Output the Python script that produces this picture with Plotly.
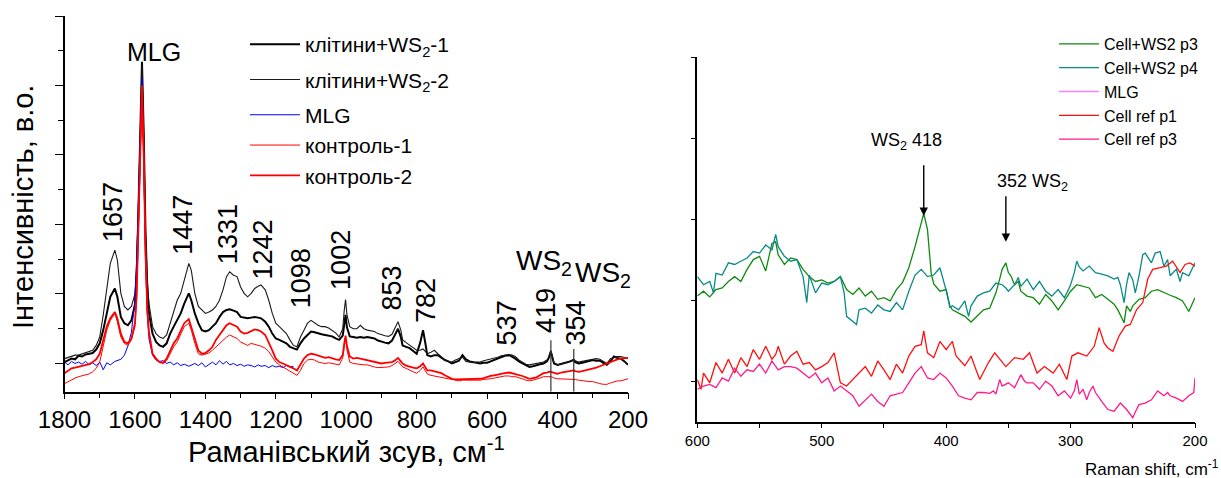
import plotly.graph_objects as go

W, H = 1221, 478
FONT = "Liberation Sans, Arial, sans-serif"

# ---------------- Left panel data (Raman shift, cm-1) ----------------
X_LEFT = [1800, 1790, 1780, 1770, 1760, 1750, 1740, 1730, 1720, 1710, 1700, 1690, 1680, 1670, 1657, 1650, 1640, 1630, 1620, 1610,
          1600, 1595, 1590, 1585, 1580, 1575, 1570, 1565, 1560,
          1550, 1540, 1530, 1520, 1510, 1500, 1490, 1480, 1470, 1460, 1447, 1440, 1430, 1420, 1410, 1400, 1390, 1380, 1370, 1360,
          1350, 1340, 1331, 1320, 1310, 1300, 1290, 1280, 1270, 1260, 1250, 1242, 1230, 1220, 1210, 1200, 1190, 1180, 1170, 1160,
          1150, 1140, 1130, 1120, 1110, 1100, 1090, 1080, 1070, 1060, 1050, 1040, 1030, 1020, 1010,
          1006, 1002, 998, 990,
          980, 970, 960, 950, 940, 930, 920, 910, 900, 890, 880, 870, 860, 853, 845, 840, 830, 820, 810, 800,
          790, 782, 775, 770, 760, 750, 740, 730, 720, 710, 700, 690, 680, 670, 660, 650, 640, 630, 620, 610,
          600, 590, 580, 570, 560, 550, 537, 530, 520, 510, 500, 490, 480, 470, 460, 450, 440, 430, 425, 419,
          413, 410, 400, 390, 380, 370, 360, 354, 350, 340, 330, 320, 310, 300, 290, 280, 270, 260, 250, 240,
          230, 220, 210, 200]

CELLS_WS2_1 = [0.02, 0.05, 0.07, 0.06, 0.11, 0.10, 0.13, 0.14, 0.15, 0.20, 0.29, 0.48, 0.72, 0.96, 1.08, 0.96, 0.67, 0.58, 0.55, 0.62,
               0.85, 1.3, 2.2, 3.4, 4.34, 3.3, 1.9, 1.1, 0.72,
               0.43, 0.31, 0.26, 0.24, 0.29, 0.43, 0.53, 0.62, 0.72, 0.86, 1.01, 0.91, 0.72, 0.58, 0.48, 0.46, 0.48, 0.53, 0.58, 0.67,
               0.74, 0.77, 0.78, 0.76, 0.74, 0.67, 0.66, 0.65, 0.66, 0.67, 0.66, 0.65, 0.60, 0.53, 0.43, 0.36, 0.34, 0.31, 0.29, 0.24,
               0.22, 0.20, 0.29, 0.36, 0.41, 0.46, 0.45, 0.43, 0.42, 0.41, 0.40, 0.39, 0.36, 0.34, 0.40,
               0.55, 0.70, 0.52, 0.39,
               0.38, 0.37, 0.38, 0.37, 0.38, 0.37, 0.36, 0.33, 0.31, 0.30, 0.29, 0.33, 0.43, 0.50, 0.38, 0.26, 0.24, 0.22, 0.18, 0.14,
               0.30, 0.48, 0.28, 0.12, 0.10, 0.12, 0.12, 0.08, 0.05, 0.03, 0.00, 0.02, 0.04, 0.12, 0.06, 0.03, 0.02, 0.01, 0.00, 0.01,
               0.01, 0.03, 0.05, 0.07, 0.09, 0.11, 0.12, 0.10, 0.07, 0.03, 0.00, -0.03, -0.05, -0.04, -0.02, -0.01, 0.00, 0.03, 0.08, 0.17,
               0.05, 0.00, -0.02, -0.01, 0.00, 0.02, 0.04, 0.05, 0.02, 0.00, 0.01, 0.02, 0.03, 0.05, 0.04, 0.04, 0.01, -0.02, 0.03, 0.10,
               0.08, 0.07, 0.03, -0.02]

CELLS_WS2_2 = [0.07, 0.09, 0.10, 0.12, 0.12, 0.14, 0.15, 0.17, 0.19, 0.26, 0.38, 0.70, 1.10, 1.44, 1.63, 1.49, 1.01, 0.82, 0.77, 0.82,
               1.0, 1.4, 2.3, 3.5, 4.3, 3.3, 1.9, 1.2, 0.86,
               0.53, 0.43, 0.38, 0.36, 0.41, 0.58, 0.72, 0.91, 1.01, 1.20, 1.44, 1.34, 1.01, 0.82, 0.77, 0.72, 0.74, 0.77, 0.82, 0.91,
               1.06, 1.25, 1.32, 1.27, 1.25, 1.10, 1.01, 0.96, 1.01, 1.08, 1.11, 1.13, 1.06, 0.91, 0.72, 0.58, 0.53, 0.48, 0.43, 0.34,
               0.26, 0.24, 0.38, 0.48, 0.58, 0.62, 0.58, 0.55, 0.53, 0.53, 0.51, 0.48, 0.44, 0.38, 0.50,
               0.75, 0.92, 0.70, 0.53,
               0.50, 0.50, 0.55, 0.50, 0.48, 0.47, 0.46, 0.43, 0.41, 0.40, 0.39, 0.42, 0.53, 0.60, 0.48, 0.34, 0.30, 0.26, 0.22, 0.19,
               0.19, 0.21, 0.17, 0.14, 0.16, 0.19, 0.14, 0.09, 0.05, 0.03, 0.02, 0.05, 0.07, 0.09, 0.03, 0.02, 0.01, 0.02, 0.02, 0.04,
               0.05, 0.06, 0.07, 0.09, 0.11, 0.12, 0.13, 0.12, 0.10, 0.05, 0.02, -0.01, -0.02, -0.01, 0.00, 0.01, 0.02, 0.05, 0.09, 0.19,
               0.06, 0.01, -0.02, -0.01, 0.00, 0.02, 0.04, 0.06, 0.04, 0.02, 0.03, 0.04, 0.05, 0.07, 0.07, 0.06, 0.03, 0.00, 0.07, 0.09,
               0.10, 0.10, 0.08, 0.07]

X_MLG = X_LEFT[:70]
MLG = [0.02, -0.02, 0.03, 0.00, 0.02, -0.01, 0.03, -0.02, 0.01, -0.03, 0.02, -0.09, 0.01, -0.02, 0.03, 0.04, 0.06, 0.12, 0.25, 0.45,
       0.9, 1.5, 2.3, 3.3, 4.1, 3.0, 1.5, 0.7, 0.35,
       0.12, 0.05, 0.03, 0.04, 0.00, 0.02, -0.02, 0.01, -0.03, -0.01, -0.04, -0.02, 0.00, -0.03, 0.01, -0.05, -0.01, 0.02, -0.02, 0.04,
       -0.01, 0.03, -0.02, 0.00, -0.03, -0.01, -0.04, -0.02, -0.03, -0.05, -0.02, -0.04, -0.03, -0.06, -0.03, -0.05, -0.04, -0.06, -0.03, -0.05,
       -0.04]

CONTROL_1 = [-0.29, -0.26, -0.23, -0.21, -0.19, -0.18, -0.17, -0.15, -0.12, -0.07, 0.02, 0.24, 0.48, 0.62, 0.72, 0.60, 0.38, 0.29, 0.26, 0.34,
             0.53, 0.95, 1.85, 3.0, 3.95, 2.9, 1.5, 0.75, 0.42,
             0.12, 0.05, 0.02, 0.00, 0.04, 0.14, 0.24, 0.31, 0.41, 0.53, 0.58, 0.48, 0.29, 0.14, 0.12, 0.13, 0.15, 0.19, 0.24, 0.29,
             0.34, 0.38, 0.41, 0.38, 0.36, 0.31, 0.29, 0.26, 0.29, 0.27, 0.26, 0.25, 0.22, 0.17, 0.10, 0.02, -0.02, -0.05, -0.09, -0.12,
             -0.14, -0.17, -0.10, 0.00, 0.05, 0.06, 0.05, 0.02, 0.01, 0.00, 0.01, 0.00, -0.01, -0.02, 0.08,
             0.25, 0.38, 0.20, 0.02,
             0.00, -0.01, -0.01, -0.02, -0.02, -0.04, -0.05, -0.06, -0.06, -0.05, -0.05, -0.03, 0.00, 0.03, -0.02, -0.05, -0.07, -0.10, -0.12, -0.14,
             -0.10, -0.05, -0.11, -0.15, -0.17, -0.18, -0.19, -0.20, -0.22, -0.23, -0.24, -0.25, -0.25, -0.24, -0.24, -0.25, -0.25, -0.24, -0.24, -0.23,
             -0.23, -0.22, -0.21, -0.20, -0.19, -0.18, -0.18, -0.19, -0.19, -0.20, -0.22, -0.24, -0.25, -0.24, -0.23, -0.21, -0.19, -0.19, -0.18, -0.19,
             -0.20, -0.21, -0.22, -0.22, -0.22, -0.22, -0.22, -0.22, -0.23, -0.24, -0.25, -0.25, -0.26, -0.26, -0.28, -0.29, -0.30, -0.30, -0.28, -0.26,
             -0.25, -0.25, -0.23, -0.22]

CONTROL_2 = [-0.14, -0.10, -0.07, -0.06, -0.05, -0.04, -0.02, -0.01, 0.02, 0.06, 0.14, 0.34, 0.53, 0.65, 0.74, 0.65, 0.43, 0.31, 0.29, 0.36,
             0.58, 1.0, 1.9, 3.1, 4.0, 3.0, 1.6, 0.8, 0.45,
             0.14, 0.07, 0.02, 0.01, 0.07, 0.19, 0.29, 0.36, 0.48, 0.58, 0.64, 0.53, 0.34, 0.19, 0.14, 0.15, 0.19, 0.24, 0.34, 0.41,
             0.48, 0.55, 0.58, 0.55, 0.53, 0.46, 0.43, 0.44, 0.47, 0.49, 0.48, 0.46, 0.41, 0.31, 0.19, 0.07, 0.02, 0.00, -0.02, -0.05,
             -0.07, -0.10, -0.02, 0.07, 0.12, 0.14, 0.13, 0.11, 0.10, 0.08, 0.09, 0.07, 0.06, 0.05, 0.12,
             0.28, 0.40, 0.25, 0.10,
             0.07, 0.08, 0.07, 0.06, 0.05, 0.04, 0.02, 0.01, 0.00, 0.01, 0.01, 0.02, 0.05, 0.08, 0.03, 0.00, -0.03, -0.05, -0.06, -0.07,
             -0.04, 0.00, -0.06, -0.10, -0.10, -0.11, -0.12, -0.14, -0.17, -0.20, -0.22, -0.23, -0.23, -0.22, -0.22, -0.23, -0.23, -0.22, -0.22, -0.21,
             -0.19, -0.18, -0.17, -0.16, -0.14, -0.14, -0.13, -0.14, -0.15, -0.16, -0.18, -0.20, -0.22, -0.21, -0.20, -0.17, -0.14, -0.13, -0.12, -0.12,
             -0.13, -0.14, -0.15, -0.13, -0.12, -0.12, -0.11, -0.10, -0.11, -0.12, -0.11, -0.10, -0.09, -0.07, -0.06, -0.04, -0.02, 0.00, 0.03, 0.05,
             0.06, 0.07, 0.08, 0.08]

LEFT_NAMES = ["клітини+WS<sub>2</sub>-1", "клітини+WS<sub>2</sub>-2", "MLG", "контроль-1", "контроль-2"]

PEAK_LABELS = ["1657", "1447", "1331", "1242", "1098", "1002", "853", "782", "537", "419", "354"]
WS2_LINES = [419, 354]

# ---------------- Right panel data ----------------
X_P3 = [600, 595, 590, 585, 580, 575, 570, 565, 560, 555, 550, 545, 540, 537, 535, 530, 525, 520, 515, 510,
        505, 500, 495, 490, 485, 480, 475, 470, 465, 460, 455, 450, 445, 440, 435, 430, 425, 422, 420, 418,
        415, 412, 410, 405, 400, 397, 395, 390, 385, 380, 375, 370, 365, 360, 357, 355, 352, 350, 348, 345,
        342, 340, 335, 330, 325, 320, 315, 310, 305, 300, 295, 290, 285, 280, 275, 270, 265, 262, 260, 257,
        255, 252, 250, 245, 240, 235, 230, 225, 220, 215, 210, 205, 203, 200]
CELL_WS2_P3 = [1.05, 1.11, 1.04, 1.13, 1.15, 1.23, 1.29, 1.23, 1.38, 1.50, 1.54, 1.36, 1.70, 1.72, 1.56, 1.44, 1.52, 1.50, 1.38, 1.29,
               1.23, 1.25, 1.21, 1.23, 1.29, 1.13, 1.07, 1.15, 1.05, 1.11, 1.01, 1.03, 0.99, 1.13, 1.22, 1.40, 1.66, 1.83, 1.95, 2.07,
               1.87, 1.33, 1.20, 1.11, 1.13, 0.93, 0.88, 0.84, 0.80, 0.73, 0.80, 0.88, 0.90, 1.09, 1.26, 1.38, 1.46, 1.34, 1.30, 1.19,
               1.23, 1.11, 1.05, 1.03, 0.95, 1.07, 0.99, 0.88, 0.99, 1.11, 1.19, 1.17, 1.15, 1.03, 1.07, 1.01, 0.95, 0.88, 0.82, 0.72,
               0.93, 0.86, 0.93, 1.01, 1.03, 1.11, 1.13, 1.09, 1.06, 1.03, 0.99, 0.86, 0.92, 1.03]

X_P4 = [600, 595, 590, 587, 585, 580, 575, 570, 565, 560, 555, 550, 545, 540, 537, 535, 530, 525, 520, 515,
        512, 510, 505, 500, 495, 490, 485, 482, 480, 475, 472, 470, 465, 460, 455, 450, 445, 440, 435, 430,
        425, 420, 415, 410, 405, 400, 397, 395, 390, 385, 382, 380, 375, 370, 365, 360, 355, 352, 350, 345,
        342, 340, 335, 330, 325, 320, 315, 310, 305, 302, 300, 297, 295, 293, 290, 285, 280, 275, 270, 265,
        262, 260, 257, 255, 253, 250, 248, 245, 242, 240, 235, 232, 228, 225, 222, 220, 215, 212, 210, 205, 200]
CELL_WS2_P4 = [1.29, 1.19, 1.23, 1.09, 1.33, 1.31, 1.46, 1.44, 1.48, 1.52, 1.60, 1.58, 1.68, 1.62, 1.81, 1.66, 1.54, 1.48, 1.50, 1.29,
               0.97, 1.31, 1.09, 1.21, 1.19, 1.23, 1.29, 1.09, 0.80, 0.74, 0.70, 0.88, 0.90, 0.84, 0.94, 0.88, 0.86, 0.97, 0.88, 1.11,
               1.31, 1.38, 1.29, 1.31, 1.40, 1.12, 0.91, 0.93, 0.88, 0.99, 0.80, 0.93, 1.05, 1.09, 1.11, 1.21, 1.19, 1.15, 1.11, 1.19,
               1.28, 1.17, 1.26, 1.13, 1.23, 1.11, 1.05, 1.13, 1.03, 1.12, 1.19, 1.34, 1.48, 1.41, 1.36, 1.42, 1.34, 1.32, 1.30, 1.26,
               1.28, 1.19, 0.97, 1.19, 1.34, 1.25, 1.09, 1.30, 1.56, 1.58, 1.46, 1.58, 1.60, 1.42, 1.50, 1.30, 1.38, 1.23, 1.34, 1.30, 1.46]

X_MLG_R = [None]
MLG_R = [None]

X_REF1 = [600, 597, 595, 590, 585, 580, 575, 570, 565, 560, 555, 550, 545, 540, 537, 535, 530, 525, 520, 515,
          510, 505, 500, 495, 490, 485, 480, 475, 470, 465, 460, 455, 450, 445, 440, 435, 430, 425, 420, 418,
          415, 410, 405, 400, 395, 392, 385, 380, 376, 373, 366, 361, 352, 345, 338, 333, 327, 321, 314, 309,
          303, 299, 294, 287, 281, 277, 273, 270, 266, 261, 256, 252, 247, 242, 238, 234, 228, 223, 218, 212,
          208, 204, 200]
CELL_REF_P1 = [0.02, -0.10, 0.10, -0.02, 0.23, 0.10, 0.27, 0.10, 0.29, 0.18, 0.39, 0.27, 0.43, 0.27, 0.33, 0.43, 0.21, 0.31, 0.37, 0.21,
               0.23, 0.14, 0.18, 0.23, 0.35, -0.02, -0.06, 0.02, 0.10, 0.18, 0.06, 0.25, 0.14, 0.02, 0.21, 0.10, 0.31, 0.43, 0.45, 0.62,
               0.35, 0.29, 0.49, 0.39, 0.49, 0.31, 0.19, 0.31, 0.14, 0.02, 0.23, 0.35, 0.18, 0.29, 0.27, 0.35, 0.10, 0.18, 0.10, 0.21,
               0.02, 0.31, 0.35, 0.31, 0.43, 0.66, 0.47, 0.41, 0.37, 0.56, 0.68, 0.70, 0.88, 0.97, 1.26, 1.38, 1.40, 1.42, 1.48, 1.34,
               1.44, 1.46, 1.42]

X_REF3 = [600, 595, 590, 585, 580, 575, 570, 565, 560, 555, 550, 545, 540, 535, 530, 525, 520, 515, 510, 505,
          500, 495, 490, 485, 480, 475, 470, 465, 460, 455, 450, 445, 440, 435, 430, 425, 420, 415, 410, 405,
          400, 395, 390, 385, 380, 375, 370, 365, 362, 360, 357, 355, 350, 345, 340, 337, 335, 330, 325, 320,
          315, 310, 305, 300, 297, 295, 293, 290, 287, 285, 282, 280, 275, 270, 265, 262, 260, 255, 250, 247,
          245, 240, 235, 230, 225, 222, 220, 215, 210, 205, 201, 200]
CELL_REF_P3 = [-0.10, -0.06, -0.04, -0.08, 0.04, 0.00, 0.16, 0.06, 0.14, 0.12, 0.21, 0.10, 0.25, 0.14, 0.18, 0.18, 0.16, 0.10, 0.04, 0.10,
               -0.02, 0.04, -0.12, -0.06, -0.12, -0.18, -0.31, -0.23, -0.16, -0.25, -0.31, -0.18, -0.16, -0.14, -0.02, 0.10, 0.18, 0.04, 0.02, 0.10,
               0.04, -0.06, -0.18, -0.21, -0.23, -0.14, -0.14, -0.15, -0.12, -0.16, 0.02, -0.06, -0.02, -0.08, 0.08, 0.00, -0.02, -0.02, -0.10, 0.00,
               -0.06, -0.18, -0.12, -0.21, -0.12, 0.02, -0.16, -0.10, -0.23, -0.14, -0.06, -0.14, -0.25, -0.35, -0.37, -0.31, -0.27, -0.35, -0.45, -0.35,
               -0.29, -0.27, -0.23, -0.12, -0.18, -0.14, -0.18, -0.21, -0.25, -0.18, -0.14, 0.04]

RIGHT_NAMES = ["Cell+WS2 p3", "Cell+WS2 p4", "MLG", "Cell ref p1", "Cell ref p3"]
ARROW_PEAKS = [418, 352]
ARROW_LABELS = ["WS<sub>2</sub> 418", "352 WS<sub>2</sub>"]

# ---------------- Figure ----------------
def px_x(p):
    return p / W

def px_y(p):
    return 1 - p / H

fig = go.Figure()

left_styles = [("#000000", 2.0), ("#1a1a1a", 1.1), ("#0000ff", 1.0), ("#ff0000", 1.0), ("#ff0000", 1.8)]
left_groups = ["a", "b", "c", "c", "c"]
left_data = [(X_LEFT, CELLS_WS2_1), (X_LEFT, CELLS_WS2_2), (X_MLG, MLG), (X_LEFT, CONTROL_1), (X_LEFT, CONTROL_2)]
for name, (xs, ys), (col, lw), grp in zip(LEFT_NAMES, left_data, left_styles, left_groups):
    fig.add_trace(go.Scatter(x=xs, y=ys, mode="lines", name=name, line=dict(color=col, width=lw),
                             xaxis="x", yaxis="y", legend="legend", legendgroup=grp))

right_styles = [("#0f8a0f", 1.3), ("#0a8a8a", 1.3), ("#ff80ff", 1.3), ("#ff1010", 1.3), ("#ff1a8c", 1.3)]
right_data = [(X_P3, CELL_WS2_P3), (X_P4, CELL_WS2_P4), (X_MLG_R, MLG_R), (X_REF1, CELL_REF_P1), (X_REF3, CELL_REF_P3)]
for name, (xs, ys), (col, lw) in zip(RIGHT_NAMES, right_data, right_styles):
    fig.add_trace(go.Scatter(x=xs, y=ys, mode="lines", name=name, line=dict(color=col, width=lw),
                             xaxis="x2", yaxis="y2", legend="legend2"))

axis_common = dict(showgrid=False, zeroline=False, showline=True, linecolor="black", linewidth=1.5,
                   ticks="outside", tickcolor="black", tickwidth=1.3, automargin=False)

fig.update_layout(
    width=W, height=H, margin=dict(l=0, r=0, t=0, b=0, autoexpand=False),
    paper_bgcolor="white", plot_bgcolor="white",
    font=dict(family=FONT, color="black"),
    xaxis=dict(domain=[px_x(64.5), px_x(628)], range=[1800, 200], anchor="y",
               tickvals=[1800, 1600, 1400, 1200, 1000, 800, 600, 400, 200], ticklen=6,
               tickfont=dict(family=FONT, color="black", size=24),
               minor=dict(tickvals=[1700, 1500, 1300, 1100, 900, 700, 500, 300], ticklen=5, ticks="outside",
                          tickcolor="black", tickwidth=1.2),
               **axis_common),
    yaxis=dict(domain=[px_y(391.7), px_y(16)], range=[-0.406, 5.0], anchor="x",
               tickvals=[0, 1, 2, 3, 4, 5], ticklen=8, showticklabels=False,
               minor=dict(tickvals=[0.5, 1.5, 2.5, 3.5, 4.5], ticklen=5, ticks="outside",
                          tickcolor="black", tickwidth=1.2),
               **axis_common),
    xaxis2=dict(domain=[px_x(697.3), px_x(1195)], range=[600, 200], anchor="y2",
                tickvals=[600, 500, 400, 300, 200], ticklen=5,
                tickfont=dict(family=FONT, color="black", size=15),
                minor=dict(tickvals=[550, 450, 350, 250], ticklen=5, ticks="outside",
                           tickcolor="black", tickwidth=1.2),
                **axis_common),
    yaxis2=dict(domain=[px_y(421.7), px_y(57)], range=[-0.5, 4.0], anchor="x2",
                tickvals=[0, 1, 2, 3, 4], ticklen=5, showticklabels=False, **axis_common),
    legend=dict(x=px_x(245), y=px_y(24), xanchor="left", yanchor="top", bgcolor="rgba(0,0,0,0)",
                itemwidth=50,
                font=dict(family=FONT, size=21, color="black"), tracegroupgap=5, traceorder="grouped"),
    legend2=dict(x=px_x(1054), y=px_y(27), xanchor="left", yanchor="top", bgcolor="rgba(0,0,0,0)",
                 itemwidth=40,
                 font=dict(family=FONT, size=16, color="black")),
    showlegend=True,
)

# Peak labels (left panel), rotated
label_x = [1662, 1463, 1336, 1239, 1128, 1015, 870, 774, 541, 433, 345]
label_y = [2.18, 2.00, 1.86, 1.64, 1.23, 1.49, 1.08, 0.91, 0.59, 0.77, 0.59]
for t, lx, ly in zip(PEAK_LABELS, label_x, label_y):
    fig.add_annotation(x=lx, y=ly, xref="x", yref="y", text=t, textangle=-90, showarrow=False,
                       xanchor="center", yanchor="middle",
                       font=dict(family=FONT, size=27, color="black"))

fig.add_annotation(x=1546, y=4.48, xref="x", yref="y", text="MLG", showarrow=False,
                   xanchor="center", yanchor="middle", font=dict(family=FONT, size=25, color="black"))
for wx, wy in [(438, 1.46), (271, 1.28)]:
    fig.add_annotation(x=wx, y=wy, xref="x", yref="y", text="WS<sub>2</sub>", showarrow=False,
                       xanchor="center", yanchor="middle", font=dict(family=FONT, size=28, color="black"))

for lx, top in zip(WS2_LINES, [0.335, 0.21]):
    fig.add_shape(type="line", xref="x", yref="y", x0=lx, x1=lx, y0=-0.406, y1=top,
                  line=dict(color="#333333", width=1.2))

# Axis titles
fig.add_annotation(x=px_x(346), y=px_y(450), xref="paper", yref="paper", showarrow=False,
                   xanchor="center", yanchor="middle",
                   text="Раманівський зсув, см<sup>-1</sup>", font=dict(family=FONT, size=29, color="black"))
fig.add_annotation(x=px_x(23), y=px_y(207), xref="paper", yref="paper", showarrow=False, textangle=-90,
                   xanchor="center", yanchor="middle",
                   text="Інтенсивність, в.о.", font=dict(family=FONT, size=29, color="black"))
fig.add_annotation(x=px_x(1083), y=px_y(468), xref="paper", yref="paper", showarrow=False,
                   xanchor="left", yanchor="middle",
                   text="Raman shift, cm<sup>-1</sup>", font=dict(family=FONT, size=17, color="black"))

# Right panel arrows & labels
arrow_tip = [2.04, 1.72]
arrow_len = [52, 47]
text_pos = [(432, 2.96), (331, 2.45)]
for px_, tip, ln, lab, (tx, ty) in zip(ARROW_PEAKS, arrow_tip, arrow_len, ARROW_LABELS, text_pos):
    fig.add_annotation(x=px_, y=tip, xref="x2", yref="y2", text="", showarrow=True, ax=0, ay=-ln,
                       arrowhead=2, arrowsize=1.2, arrowwidth=1.4, arrowcolor="black")
    fig.add_annotation(x=tx, y=ty, xref="x2", yref="y2", text=lab, showarrow=False,
                       xanchor="center", yanchor="middle", font=dict(family=FONT, size=18, color="black"))

fig.write_html("out.html")
